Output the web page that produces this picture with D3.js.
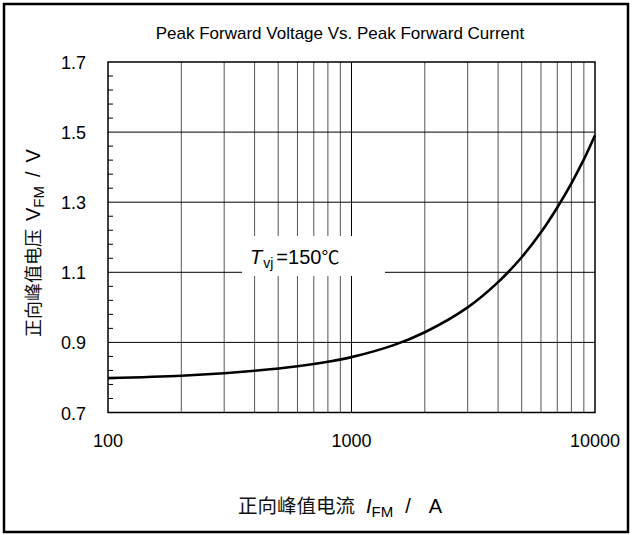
<!DOCTYPE html>
<html><head><meta charset="utf-8">
<script src="https://cdn.jsdelivr.net/npm/d3@7"></script>
<style>body{margin:0;background:#fff}svg{display:block}text{font-family:"Liberation Sans",Arial,sans-serif;fill:#000}</style>
</head><body>
<script>
const currents = [100,200,300,400,600,800,1000,1500,2000,3000,4000,5000,6000,7000,8000,9000,10000];
const voltages = [0.798,0.805,0.812,0.819,0.832,0.845,0.858,0.893,0.929,1.0,1.072,1.143,1.214,1.285,1.354,1.422,1.491];
const yTicks = [0.7,0.9,1.1,1.3,1.5,1.7];
const xTicks = [100,1000,10000];
const xGrid = [200,300,400,500,600,700,800,900,1000,2000,3000,4000,5000,6000,7000,8000,9000];
const yMinor = [0.74,0.78,0.82,0.86,0.94,0.98,1.02,1.06,1.14,1.18,1.22,1.26,1.34,1.38,1.42,1.46,1.54,1.58,1.62,1.66];

const W=633,H=535;
const m={l:108,r:595,t:62,b:412.5};
const svg=d3.select("body").append("svg").attr("width",W).attr("height",H);
svg.append("rect").attr("x",4).attr("y",4).attr("width",624).attr("height",528).attr("fill","none").attr("stroke","#000").attr("stroke-width",2.5);

const x=d3.scaleLog().domain([100,10000]).range([m.l,m.r]);
const y=d3.scaleLinear().domain([0.7,1.7]).range([m.b,m.t]);

const g=svg.append("g");
g.selectAll(".vg").data(xGrid).join("line").attr("x1",d=>x(d)).attr("x2",d=>x(d)).attr("y1",m.t).attr("y2",m.b)
 .attr("stroke",d=>d===1000?"#000":"#555").attr("stroke-width",1);
g.selectAll(".hg").data(yTicks.slice(1,-1)).join("line").attr("x1",m.l).attr("x2",m.r).attr("y1",d=>y(d)).attr("y2",d=>y(d))
 .attr("stroke","#000").attr("stroke-width",1);
g.selectAll(".mt").data(yMinor).join("line").attr("x1",m.l).attr("x2",m.l+5).attr("y1",d=>y(d)).attr("y2",d=>y(d))
 .attr("stroke","#000").attr("stroke-width",1);
g.append("rect").attr("x",m.l).attr("y",m.t).attr("width",m.r-m.l).attr("height",m.b-m.t).attr("fill","none").attr("stroke","#000").attr("stroke-width",1.5);

// label box
g.append("rect").attr("x",242).attr("y",236).attr("width",143).attr("height",40).attr("fill","#fff");
const lt=g.append("text").attr("x",250).attr("y",264).attr("font-size",20);
lt.append("tspan").attr("font-style","italic").text("T");
lt.append("tspan").attr("font-size",14).attr("dy",4).attr("dx",1).text("vj");
lt.append("tspan").attr("dy",-4).attr("dx",3).text("=150");
lt.append("tspan").attr("font-family","Noto Sans CJK SC").attr("font-size",18).text("℃");

const line=d3.line().x((d,i)=>x(currents[i])).y(d=>y(d)).curve(d3.curveCatmullRom.alpha(0.5));
g.append("path").attr("d",line(voltages)).attr("fill","none").attr("stroke","#000").attr("stroke-width",2.6);

// ticks
svg.selectAll(".yl").data(yTicks).join("text").attr("x",86).attr("y",d=>y(d)+7).attr("text-anchor","end").attr("font-size",18).text(d=>d.toFixed(1));
svg.selectAll(".xl").data(xTicks).join("text").attr("x",d=>x(d)).attr("y",447).attr("text-anchor","middle").attr("font-size",18).text(d=>d);

svg.append("text").attr("x",340).attr("y",39).attr("text-anchor","middle").attr("font-size",17).text("Peak Forward Voltage Vs. Peak Forward Current");

const xt=svg.append("text").attr("x",238).attr("y",513).attr("font-size",20);
xt.append("tspan").attr("font-family","Noto Sans CJK SC").attr("font-size",19.5).attr("fill","#111").text("正向峰值电流");
xt.append("tspan").attr("font-style","italic").attr("dx",11).text("I");
xt.append("tspan").attr("font-size",15).attr("dy",4).text("FM");
xt.append("tspan").attr("dy",-4).attr("dx",12).text("/");
xt.append("tspan").attr("dx",18).text("A");

const yt=svg.append("text").attr("transform","translate(40,337) rotate(-90)").attr("font-size",20);
yt.append("tspan").attr("font-family","Noto Sans CJK SC").attr("font-size",18).attr("fill","#111").text("正向峰值电压");
yt.append("tspan").attr("dx",8).text("V");
yt.append("tspan").attr("font-size",15).attr("dy",4).text("FM");
yt.append("tspan").attr("dy",-4).attr("dx",9).text("/");
yt.append("tspan").attr("dx",9).text("V");
</script>
</body></html>
